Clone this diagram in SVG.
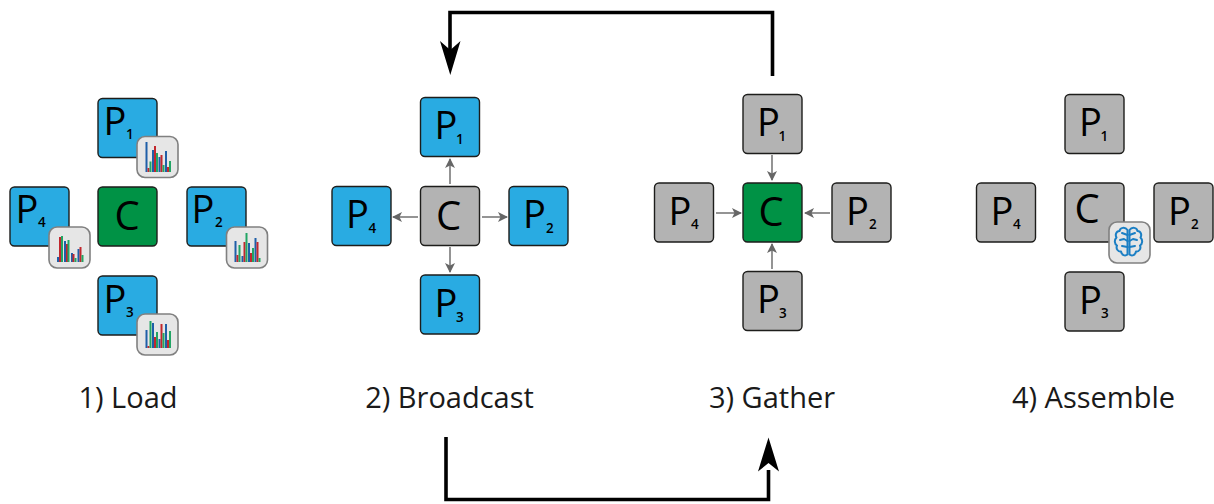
<svg xmlns="http://www.w3.org/2000/svg" width="1214" height="504" viewBox="0 0 1214 504">
<style>
.box{stroke:#1d1d1b;stroke-width:1.4}
.blue{fill:#29abe2}.grey{fill:#b3b3b3}.green{fill:#009245}
.t{font-family:"Open Sans","Liberation Sans",sans-serif;fill:#000;font-size:38px}
.c{font-family:"Open Sans","Liberation Sans",sans-serif;fill:#000;font-size:40px}
.s{font-family:"Open Sans","Liberation Sans",sans-serif;fill:#000;font-size:13.5px;font-weight:600}
.cap{font-family:"Open Sans","Liberation Sans",sans-serif;fill:#1a1a1a;font-size:29px;text-anchor:middle}
.badge{fill:#e6e6e6;stroke:#808080;stroke-width:1.6}
.thin{fill:none;stroke:#666;stroke-width:1.4}
.thick{fill:none;stroke:#000;stroke-width:3.6}
.b{fill:#1f5fa8}.r{fill:#c1272d}.g{fill:#22a565}
.brain{fill:none;stroke:#1b7fc4;stroke-width:2;stroke-linecap:round;stroke-linejoin:round}
</style>
<defs>
<marker id="ah" markerUnits="userSpaceOnUse" markerWidth="11" markerHeight="11" refX="9" refY="5" orient="auto"><path d="M0 0L10 5L0 10L2.500 5Z" fill="#666"/></marker>
<rect id="bx" width="59" height="59" rx="4.500"/>
<rect id="bd" width="41" height="41" rx="8"/>
</defs>

<g id="connectors">
<path class="thin" marker-end="url(#ah)" d="M450 184V159"/>
<path class="thin" marker-end="url(#ah)" d="M418 217H393"/>
<path class="thin" marker-end="url(#ah)" d="M482 217H507"/>
<path class="thin" marker-end="url(#ah)" d="M450 247V272"/>
<path class="thin" marker-end="url(#ah)" d="M772 155V180"/>
<path class="thin" marker-end="url(#ah)" d="M716 213H741"/>
<path class="thin" marker-end="url(#ah)" d="M830 213H805"/>
<path class="thin" marker-end="url(#ah)" d="M772 269V244"/>
<path class="thick" d="M772.500 76V12.500H450V50"/>
<path d="M450.300 75L440 41L450.300 50L460.500 41Z" fill="#000"/>
<path class="thick" d="M446 437V499.500H768.500V470"/>
<path d="M768.500 437.500L779 471.500L768.500 463L758 471.500Z" fill="#000"/>
</g>

<g id="load-p1"><use href="#bx" x="98" y="98.500" class="box blue"/><text class="t" x="103.500" y="135">P</text><text class="s" x="126" y="138.500">1</text>
<use href="#bd" x="137" y="136.500" class="badge"/>
<path class="b" d="M145.500 142h2v30h-2zM152 150h2v22h-2zM158.500 157h2v15h-2zM165 151h2v21h-2z"/><path class="r" d="M147.500 168h2v4h-2zM154 146h2v26h-2zM160.500 155h2v17h-2zM167 167h2v5h-2z"/><path class="g" d="M149.500 161.500h2v10.500h-2zM156 153h2v19h-2zM162.500 165h2v7h-2zM169 161h2v11h-2z"/></g>
<g id="load-c"><use href="#bx" x="98" y="187" class="box green"/><text class="c" x="114.500" y="230">C</text></g>
<g id="load-p4"><use href="#bx" x="10" y="187" class="box blue"/><text class="t" x="15.500" y="223">P</text><text class="s" x="38" y="227">4</text>
<use href="#bd" x="49" y="227" class="badge"/>
<path class="b" d="M57 257h2v5h-2zM64 241h2v21h-2zM71 253h2v9h-2zM77.500 249h2v13h-2z"/><path class="r" d="M59 237h2v25h-2zM66 244h2v18h-2zM72.500 254h2v8h-2zM79.500 247h2v15h-2z"/><path class="g" d="M61 236h2v26h-2zM67.500 240h2v22h-2zM74.500 258h2v4h-2zM81.500 255h2v7h-2z"/></g>
<g id="load-p2"><use href="#bx" x="187" y="187" class="box blue"/><text class="t" x="191.500" y="223">P</text><text class="s" x="215" y="227">2</text>
<use href="#bd" x="226.500" y="227" class="badge"/>
<path class="b" d="M234.500 241h2v21h-2zM241.500 256h2v6h-2zM248 243h2v19h-2zM254.500 238h2v24h-2z"/><path class="r" d="M236.500 255h2v7h-2zM243.500 242h2v20h-2zM250 253h2v9h-2zM256.500 242h2v20h-2z"/><path class="g" d="M238.500 245h2v17h-2zM245.500 233h2v29h-2zM252 248h2v14h-2zM258.500 258h2v4h-2z"/></g>
<g id="load-p3"><use href="#bx" x="98" y="276" class="box blue"/><text class="t" x="103.500" y="313">P</text><text class="s" x="126" y="317">3</text>
<use href="#bd" x="137" y="314" class="badge"/>
<path class="b" d="M145.500 330h2v18h-2zM152 323h2v25h-2zM158.500 339h2v9h-2zM165 324h2v24h-2z"/><path class="r" d="M147.500 346h2v2h-2zM154 337h2v11h-2zM160.500 324h2v24h-2zM167 340h2v8h-2z"/><path class="g" d="M149.500 321h2v27h-2zM156 332h2v16h-2zM162.500 333h2v15h-2zM169 331h2v17h-2z"/></g>

<g id="broadcast-p1"><use href="#bx" x="420.500" y="97.500" class="box blue"/><text class="t" x="434.500" y="139">P</text><text class="s" x="456" y="144">1</text></g>
<g id="broadcast-c"><use href="#bx" x="420.500" y="186.500" class="box grey"/><text class="c" x="436" y="229.500">C</text></g>
<g id="broadcast-p4"><use href="#bx" x="332" y="186.500" class="box blue"/><text class="t" x="346" y="228">P</text><text class="s" x="368.500" y="232.500">4</text></g>
<g id="broadcast-p2"><use href="#bx" x="509" y="186.500" class="box blue"/><text class="t" x="523" y="228">P</text><text class="s" x="546" y="232.500">2</text></g>
<g id="broadcast-p3"><use href="#bx" x="420.500" y="275" class="box blue"/><text class="t" x="434.500" y="316.500">P</text><text class="s" x="456" y="321.500">3</text></g>

<g id="gather-p1"><use href="#bx" x="743" y="94.500" class="box grey"/><text class="t" x="757" y="136">P</text><text class="s" x="778.500" y="140.500">1</text></g>
<g id="gather-c"><use href="#bx" x="743" y="183" class="box green"/><text class="c" x="758.500" y="225.500">C</text></g>
<g id="gather-p4"><use href="#bx" x="654.500" y="183" class="box grey"/><text class="t" x="668.500" y="224.500">P</text><text class="s" x="691" y="229">4</text></g>
<g id="gather-p2"><use href="#bx" x="832" y="183" class="box grey"/><text class="t" x="846" y="224.500">P</text><text class="s" x="869" y="229">2</text></g>
<g id="gather-p3"><use href="#bx" x="743" y="271.500" class="box grey"/><text class="t" x="757" y="313">P</text><text class="s" x="779" y="317.500">3</text></g>

<g id="assemble-p1"><use href="#bx" x="1065" y="94.500" class="box grey"/><text class="t" x="1079" y="136">P</text><text class="s" x="1100.500" y="140.500">1</text></g>
<g id="assemble-c"><use href="#bx" x="1065" y="183" class="box grey"/><text class="c" x="1074.500" y="223">C</text>
<use href="#bd" x="1109" y="222" class="badge"/>
<g class="brain"><path d="M1127.500 230C1125 226.500 1120 227.500 1119.500 231C1116 231 1115 235 1116.500 237.500C1114 240 1114.500 244 1117 245.500C1115.500 249 1118.500 252 1121 251.500C1121.500 255 1125 256.500 1127.500 254.500Z"/><path d="M1129.500 230C1132 226.500 1137 227.500 1137.500 231C1141 231 1142 235 1140.500 237.500C1143 240 1142.500 244 1140 245.500C1141.500 249 1138.500 252 1136 251.500C1135.500 255 1132 256.500 1129.500 254.500Z"/><path d="M1127.500 235L1122 233M1127.500 241L1124 239L1120 240M1127.500 247L1122 246M1129.500 235L1135 233M1129.500 241L1133 239L1137 240M1129.500 247L1135 246"/></g></g>
<g id="assemble-p4"><use href="#bx" x="976.500" y="183" class="box grey"/><text class="t" x="990.500" y="224.500">P</text><text class="s" x="1013" y="229">4</text></g>
<g id="assemble-p2"><use href="#bx" x="1154" y="183" class="box grey"/><text class="t" x="1168" y="224.500">P</text><text class="s" x="1191" y="229">2</text></g>
<g id="assemble-p3"><use href="#bx" x="1065" y="272" class="box grey"/><text class="t" x="1079" y="313.500">P</text><text class="s" x="1101" y="318">3</text></g>

<text class="cap" x="128" y="408">1) Load</text>
<text class="cap" x="449.500" y="408">2) Broadcast</text>
<text class="cap" x="772" y="408">3) Gather</text>
<text class="cap" x="1093.500" y="408">4) Assemble</text>
</svg>
